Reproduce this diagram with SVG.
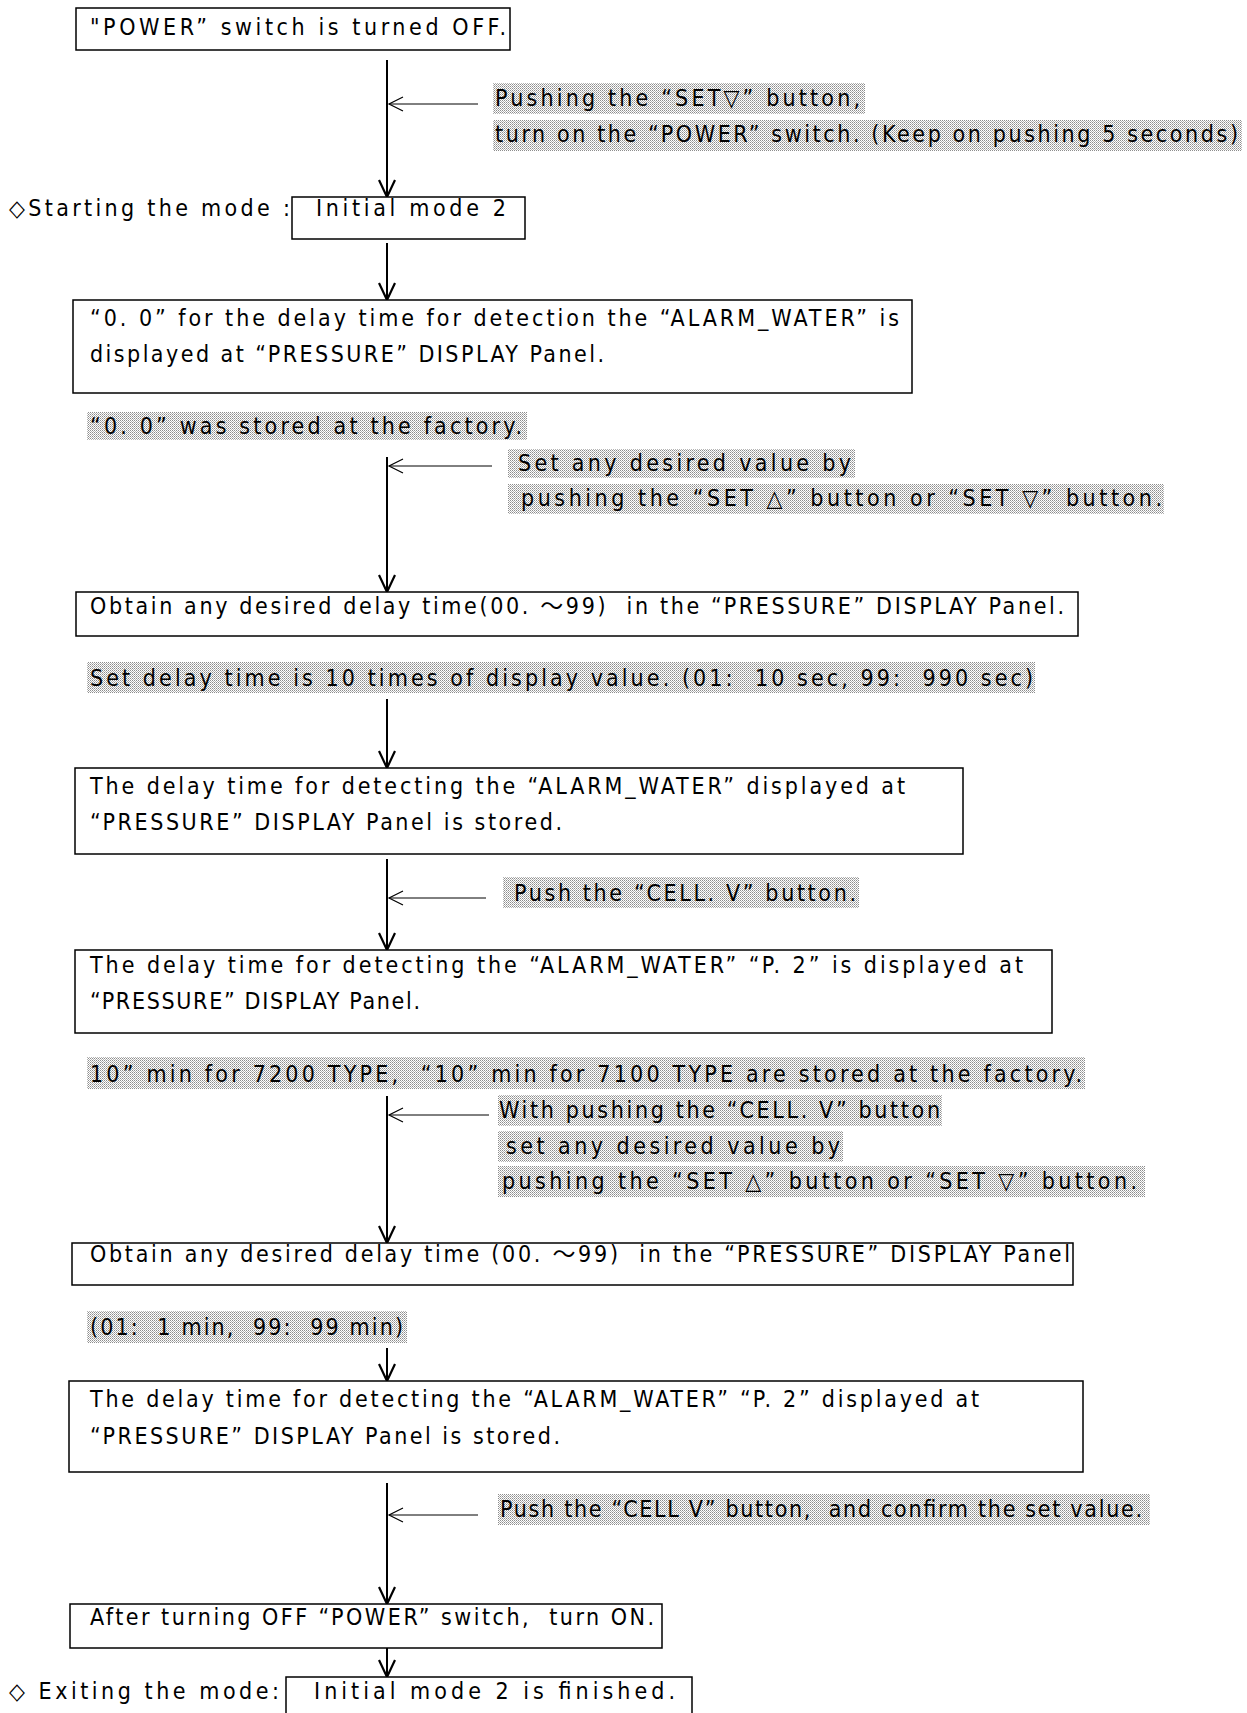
<svg xmlns="http://www.w3.org/2000/svg" width="1247" height="1713" viewBox="0 0 1247 1713" xml:space="preserve">
<style>
.bg{fill:#ffffff}
.box{fill:#ffffff;stroke:#000;stroke-width:1.5}
.t{font-family:'Liberation Sans Narrow','DejaVu Sans Condensed','Liberation Sans','DejaVu Sans','Noto Sans CJK JP',sans-serif;font-stretch:condensed;font-size:23px;fill:#000;white-space:pre}
.sh{fill:url(#dots)}
.v{stroke:#000;stroke-width:2;fill:none}
.h{stroke:#000;stroke-width:1;fill:none}
</style>
<defs>
<pattern id="dots" x="0" y="0" width="2" height="2" patternUnits="userSpaceOnUse">
<rect width="2" height="2" fill="#ffffff"/>
<rect width="1" height="1" fill="#8c8c8c"/>
<rect x="1" y="1" width="1" height="1" fill="#b4b4b4"/>
</pattern>
<marker id="vdown" markerUnits="userSpaceOnUse" markerWidth="24" markerHeight="24" viewBox="0 0 24 24" refX="22" refY="12" orient="auto">
<path d="M5,4 L22,12 L5,20" fill="none" stroke="#000" stroke-width="2.2"/>
</marker>
<marker id="vleft" markerUnits="userSpaceOnUse" markerWidth="20" markerHeight="20" viewBox="0 0 20 20" refX="18" refY="10" orient="auto">
<path d="M4,3 L18,10 L4,17" fill="none" stroke="#000" stroke-width="1.2"/>
</marker>
</defs>
<rect class="bg" x="0" y="0" width="1247" height="1713"/>

<g id="connectors">
<line class="v" x1="387" y1="60" x2="387" y2="197" marker-end="url(#vdown)"/>
<line class="h" x1="478" y1="104" x2="389" y2="104" marker-end="url(#vleft)"/>
<line class="v" x1="387" y1="243" x2="387" y2="300" marker-end="url(#vdown)"/>
<line class="v" x1="387" y1="457" x2="387" y2="592" marker-end="url(#vdown)"/>
<line class="h" x1="492" y1="466" x2="389" y2="466" marker-end="url(#vleft)"/>
<line class="v" x1="387" y1="699" x2="387" y2="768" marker-end="url(#vdown)"/>
<line class="v" x1="387" y1="859" x2="387" y2="950" marker-end="url(#vdown)"/>
<line class="h" x1="486" y1="898" x2="389" y2="898" marker-end="url(#vleft)"/>
<line class="v" x1="387" y1="1096" x2="387" y2="1243" marker-end="url(#vdown)"/>
<line class="h" x1="489" y1="1115" x2="389" y2="1115" marker-end="url(#vleft)"/>
<line class="v" x1="387" y1="1348" x2="387" y2="1381" marker-end="url(#vdown)"/>
<line class="v" x1="387" y1="1483" x2="387" y2="1604" marker-end="url(#vdown)"/>
<line class="h" x1="478" y1="1515" x2="389" y2="1515" marker-end="url(#vleft)"/>
<line class="v" x1="387" y1="1648" x2="387" y2="1677" marker-end="url(#vdown)"/>
</g>

<g id="n1">
<rect class="box" x="76" y="8" width="434" height="42"/>
<text class="t" x="90" y="35" textLength="416" lengthAdjust="spacing">"POWER” switch is turned OFF.</text>
</g>

<g id="l1">
<rect class="sh" x="493" y="83" width="372" height="31"/>
<rect class="sh" x="493" y="120" width="749" height="31"/>
<text class="t" x="495" y="106" textLength="365" lengthAdjust="spacing">Pushing the “SET▽” button,</text>
<text class="t" x="495" y="142" textLength="743" lengthAdjust="spacing">turn on the “POWER” switch. (Keep on pushing 5 seconds)</text>
</g>

<g id="n2">
<text class="t" x="9" y="216" textLength="281" lengthAdjust="spacing">◇Starting the mode :</text>
<rect class="box" x="292" y="197" width="233" height="42"/>
<text class="t" x="316" y="216" textLength="190" lengthAdjust="spacing">Initial mode 2</text>
</g>

<g id="n3">
<rect class="box" x="73" y="300" width="839" height="93"/>
<text class="t" x="90" y="326" textLength="809" lengthAdjust="spacing">“0. 0” for the delay time for detection the “ALARM_WATER” is</text>
<text class="t" x="90" y="362" textLength="514" lengthAdjust="spacing">displayed at “PRESSURE” DISPLAY Panel.</text>
</g>

<g id="l3a">
<rect class="sh" x="87" y="412" width="440" height="28"/>
<text class="t" x="90" y="434" textLength="432" lengthAdjust="spacing">“0. 0” was stored at the factory.</text>
</g>

<g id="l3b">
<rect class="sh" x="508" y="449" width="347" height="29"/>
<rect class="sh" x="508" y="484" width="656" height="30"/>
<text class="t" x="518" y="471" textLength="333" lengthAdjust="spacing">Set any desired value by</text>
<text class="t" x="521" y="506" textLength="641" lengthAdjust="spacing">pushing the “SET △” button or “SET ▽” button.</text>
</g>

<g id="n4">
<rect class="box" x="76" y="592" width="1002" height="44"/>
<text class="t" x="90" y="614" textLength="974" lengthAdjust="spacing">Obtain any desired delay time(00. ～99)  in the “PRESSURE” DISPLAY Panel.</text>
</g>

<g id="l4">
<rect class="sh" x="87" y="662" width="948" height="31"/>
<text class="t" x="90" y="686" textLength="943" lengthAdjust="spacing">Set delay time is 10 times of display value. (01:  10 sec, 99:  990 sec)</text>
</g>

<g id="n5">
<rect class="box" x="75" y="768" width="888" height="86"/>
<text class="t" x="90" y="794" textLength="815" lengthAdjust="spacing">The delay time for detecting the “ALARM_WATER” displayed at</text>
<text class="t" x="90" y="830" textLength="472" lengthAdjust="spacing">“PRESSURE” DISPLAY Panel is stored.</text>
</g>

<g id="l5">
<rect class="sh" x="503" y="877" width="356" height="31"/>
<text class="t" x="514" y="901" textLength="342" lengthAdjust="spacing">Push the “CELL. V” button.</text>
</g>

<g id="n6">
<rect class="box" x="75" y="950" width="977" height="83"/>
<text class="t" x="90" y="973" textLength="933" lengthAdjust="spacing">The delay time for detecting the “ALARM_WATER” “P. 2” is displayed at</text>
<text class="t" x="90" y="1009" textLength="330" lengthAdjust="spacing">“PRESSURE” DISPLAY Panel.</text>
</g>

<g id="l6">
<rect class="sh" x="87" y="1057" width="998" height="32"/>
<text class="t" x="90" y="1082" textLength="992" lengthAdjust="spacing">10” min for 7200 TYPE,  “10” min for 7100 TYPE are stored at the factory.</text>
</g>

<g id="l7">
<rect class="sh" x="498" y="1095" width="444" height="31"/>
<rect class="sh" x="498" y="1131" width="345" height="31"/>
<rect class="sh" x="498" y="1166" width="647" height="31"/>
<text class="t" x="499" y="1118" textLength="441" lengthAdjust="spacing">With pushing the “CELL. V” button</text>
<text class="t" x="506" y="1154" textLength="334" lengthAdjust="spacing">set any desired value by</text>
<text class="t" x="502" y="1189" textLength="635" lengthAdjust="spacing">pushing the “SET △” button or “SET ▽” button.</text>
</g>

<g id="n7">
<rect class="box" x="72" y="1243" width="1001" height="42"/>
<text class="t" x="90" y="1262" textLength="980" lengthAdjust="spacing">Obtain any desired delay time (00. ～99)  in the “PRESSURE” DISPLAY Panel</text>
</g>

<g id="l8">
<rect class="sh" x="87" y="1311" width="320" height="32"/>
<text class="t" x="90" y="1335" textLength="313" lengthAdjust="spacing">(01:  1 min,  99:  99 min)</text>
</g>

<g id="n8">
<rect class="box" x="69" y="1381" width="1014" height="91"/>
<text class="t" x="90" y="1407" textLength="889" lengthAdjust="spacing">The delay time for detecting the “ALARM_WATER” “P. 2” displayed at</text>
<text class="t" x="90" y="1444" textLength="470" lengthAdjust="spacing">“PRESSURE” DISPLAY Panel is stored.</text>
</g>

<g id="l9">
<rect class="sh" x="498" y="1494" width="652" height="31"/>
<text class="t" x="500" y="1517" textLength="642" lengthAdjust="spacing">Push the “CELL V” button,  and confirm the set value.</text>
</g>

<g id="n9">
<rect class="box" x="70" y="1604" width="592" height="44"/>
<text class="t" x="90" y="1625" textLength="564" lengthAdjust="spacing">After turning OFF “POWER” switch,  turn ON.</text>
</g>

<g id="n10">
<text class="t" x="9" y="1699" textLength="270" lengthAdjust="spacing">◇ Exiting the mode:</text>
<rect class="box" x="286" y="1677" width="406" height="50"/>
<text class="t" x="314" y="1699" textLength="361" lengthAdjust="spacing">Initial mode 2 is finished.</text>
</g>
</svg>
